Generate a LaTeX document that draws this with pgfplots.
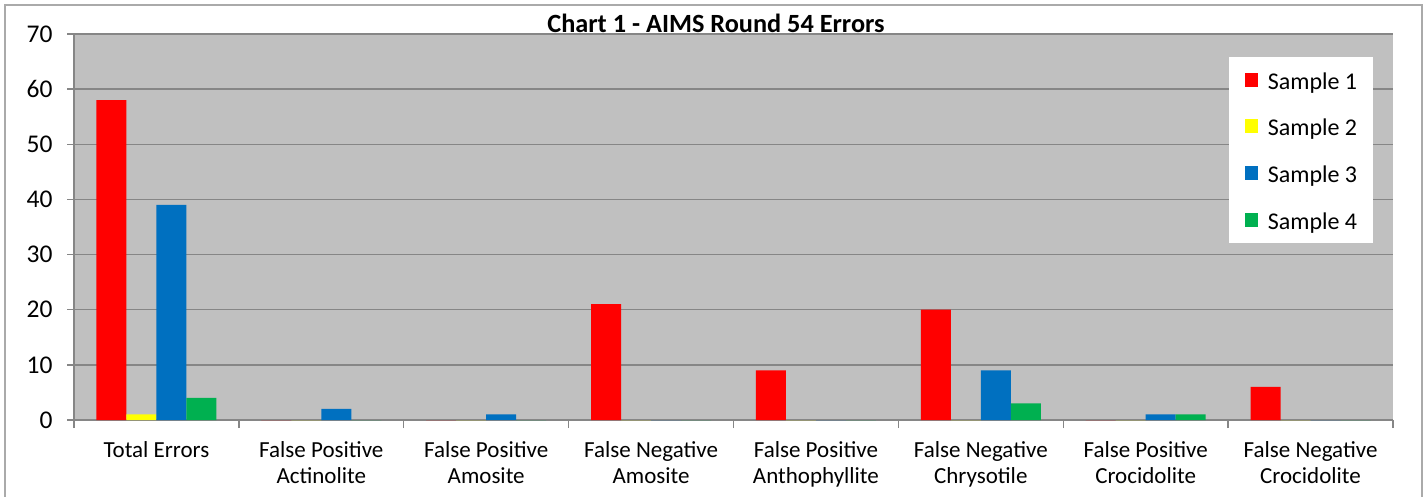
\documentclass[border=0pt]{standalone}
\usepackage{fontspec}
\setmainfont{Carlito}
\usepackage{pgfplots}
\pgfplotsset{compat=1.18}
\definecolor{s1}{HTML}{FF0000}
\definecolor{s2}{HTML}{FFFF00}
\definecolor{s3}{HTML}{0070C0}
\definecolor{s4}{HTML}{00B050}
\definecolor{bg}{HTML}{C0C0C0}
\definecolor{gl}{HTML}{868686}
\begin{document}
\begin{tikzpicture}[x=1pt,y=1pt]
\useasboundingbox (0,0) rectangle (1427,-497);
\draw[gl!70, line width=1.5pt] (5,-5) rectangle (1422,-530);
\begin{axis}[at={(74pt,-420pt)}, anchor=south west, scale only axis,
  width=1319pt, height=386pt,
  ybar=0pt, bar width=30pt,
  xmin=-0.5, xmax=7.5, ymin=0, ymax=70, ytick={0,10,...,70},
  xtick={0,...,7},
  xticklabels={Total Errors, False Positive\\Actinolite, False Positive\\Amosite, False Negative\\Amosite, False Positive\\Anthophyllite, False Negative\\Chrysotile, False Positive\\Crocidolite, False Negative\\Crocidolite},
  minor xtick={-0.5,0.5,...,7.5},
  major x tick style={draw=none},
  minor x tick style={gl, line width=1.3pt},
  major y tick style={gl, line width=1.3pt},
  tick align=outside, major tick length=7pt, minor tick length=8pt,
  axis background/.style={fill=bg},
  ymajorgrids, grid style={gl, line width=1.3pt},
  axis x line*=bottom, axis y line*=left,
  axis line style={gl, line width=1.3pt, -},
  /pgf/number format/assume math mode=true,
  xticklabel style={font=\fontsize{23}{26}\selectfont, black, align=center, yshift=-11pt},
  yticklabel style={font=\fontsize{25.5}{28}\selectfont, black, xshift=-11pt},
  legend style={at={(0.8757,0.9404)}, anchor=north west, draw=none, fill=white,
    font=\fontsize{24}{28}\selectfont, inner xsep=16pt, inner ysep=12pt, row sep=24.7pt,
    nodes={inner sep=0pt, text height=20pt, text depth=2pt},
    /tikz/every odd column/.append style={column sep=10pt}},
  legend cell align=left,
  legend image code/.code={\fill[#1] (0pt,-6.5pt) rectangle (12.6pt,7.5pt);},
]
\addplot[fill=s1, draw=none] coordinates {(0,58)(1,0)(2,0)(3,21)(4,9)(5,20)(6,0)(7,6)};
\addplot[fill=s2, draw=none] coordinates {(0,1)(1,0)(2,0)(3,0)(4,0)(5,0)(6,0)(7,0)};
\addplot[fill=s3, draw=none] coordinates {(0,39)(1,2)(2,1)(3,0)(4,0)(5,9)(6,1)(7,0)};
\addplot[fill=s4, draw=none] coordinates {(0,4)(1,0)(2,0)(3,0)(4,0)(5,3)(6,1)(7,0)};
\legend{Sample 1, Sample 2, Sample 3, Sample 4}
\end{axis}
\node[font=\bfseries\fontsize{26.3}{30}\selectfont] at (716,-23) {Chart 1 - AIMS Round 54 Errors};
\end{tikzpicture}
\end{document}
